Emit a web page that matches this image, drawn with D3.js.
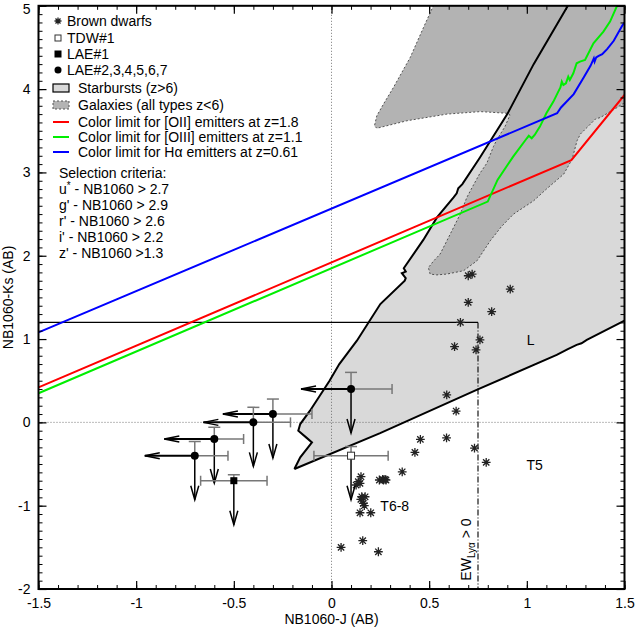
<!DOCTYPE html>
<html>
<head>
<meta charset="utf-8">
<script src="https://cdn.jsdelivr.net/npm/d3@7"></script>
<style>
  body { margin: 0; background: #fff; }
  text { font-family: "Liberation Sans", Arial, sans-serif; fill: #000; }
</style>
</head>
<body>
<script>
// brown dwarfs (asterisks)
const dwarfX = [0.70, 0.72, 0.915, 0.70, 0.82, 0.66, 0.76, 0.63, 0.74, 0.59, 0.638, 0.455, 0.589, 0.732, 0.427, 0.792, 0.362, 0.274, 0.262,
                0.151, 0.137, 0.126, 0.146, 0.245, 0.266, 0.279, 0.155, 0.172, 0.15, 0.163, 0.168, 0.146, 0.201, 0.049, 0.16, 0.24];
const dwarfY = [1.76, 1.78, 1.60, 1.44, 1.33, 1.20, 0.99, 0.91, 0.87, 0.33, 0.136, -0.204, -0.185, -0.309, -0.36, -0.48, -0.593, -0.684, -0.684,
                -0.652, -0.712, -0.752, -0.732, -0.692, -0.692, -0.692, -0.893, -0.893, -0.924, -0.972, -1.0, -1.085, -1.085, -1.50, -1.42, -1.553];

// LAE#2..7 : value, right x error, upper y error (they are upper limits to the left / down)
const laeX = [0.1, -0.3, -0.4, -0.6, -0.7];
const laeY = [0.4, 0.1, 0.0, -0.2, -0.4];
const laeXErr = [0.21, 0.20, 0.19, 0.15, 0.17];
const laeYErr = [0.20, 0.18, 0.18, 0.14, 0.17];

// LAE#1 and TDW#1 : [x, y], [x error, upper y error]
const lae1 = [-0.5, -0.7];
const lae1Err = [0.17, 0.07];
const tdw1 = [0.1, -0.4];
const tdw1Err = [0.19, 0.11];

// colour limit curves
const redLimit = [[-1.5, 0.42], [1.228, 3.148], [1.5, 3.93]];
const greenLimit = [[-1.5, 0.35], [0.80, 2.65], [0.85, 2.91], [0.93, 3.19], [1.0, 3.41], [1.01, 3.44], [1.025, 3.41], [1.04, 3.45],
  [1.067, 3.55], [1.10, 3.71], [1.136, 3.85], [1.161, 3.97], [1.172, 4.02], [1.179, 4.09], [1.187, 4.05], [1.20, 4.07], [1.212, 4.15],
  [1.22, 4.11], [1.238, 4.19], [1.255, 4.31], [1.272, 4.33], [1.298, 4.35], [1.341, 4.55], [1.392, 4.69], [1.426, 4.81], [1.46, 4.99], [1.47, 5.05]];
const blueLimit = [[-1.5, 1.08], [1.155, 3.71], [1.175, 3.78], [1.24, 3.94], [1.291, 4.14], [1.326, 4.28], [1.343, 4.37], [1.347, 4.33],
  [1.355, 4.38], [1.368, 4.40], [1.386, 4.42], [1.411, 4.48], [1.445, 4.58], [1.488, 4.76], [1.5, 4.80]];

// starburst (z>6) region boundaries
const starUpper = [[-0.19, -0.56], [-0.16, -0.42], [-0.10, -0.24], [-0.13, -0.18], [-0.17, -0.10], [-0.16, -0.02], [-0.11, 0.14],
  [-0.01, 0.50], [0.04, 0.70], [0.13, 0.98], [0.25, 1.42], [0.375, 1.70], [0.38, 1.73], [0.36, 1.79], [0.38, 1.81], [0.37, 1.85],
  [0.47, 2.19], [0.54, 2.46], [0.625, 2.70], [0.641, 2.75], [0.649, 2.81], [0.67, 2.86], [0.76, 3.18], [0.90, 3.70], [1.035, 4.30], [1.21, 5.0]];
const starLower = [[-0.19, -0.56], [0.249, -0.13], [0.743, 0.39], [1.153, 0.81], [1.21, 0.88], [1.255, 0.93], [1.28, 0.95], [1.307, 0.99], [1.5, 1.22]];

// galaxies (all types z<6) region
const galaxies = [[0.531, 5.05], [0.471, 4.74], [0.403, 4.38], [0.317, 4.02], [0.266, 3.82], [0.232, 3.68], [0.22, 3.56], [0.232, 3.53],
  [0.386, 3.62], [0.591, 3.70], [0.762, 3.73], [0.898, 3.71], [0.914, 3.69], [0.888, 3.55], [0.846, 3.39], [0.829, 3.31], [0.795, 3.11],
  [0.76, 2.99], [0.72, 2.82], [0.693, 2.70], [0.659, 2.50], [0.625, 2.34], [0.582, 2.14], [0.556, 2.02], [0.52, 1.93], [0.496, 1.857],
  [0.505, 1.78], [0.539, 1.77], [0.59, 1.78], [0.676, 1.82], [0.745, 1.94], [0.813, 2.18], [0.87, 2.35], [0.932, 2.50], [1.035, 2.66],
  [1.10, 2.80], [1.189, 2.98], [1.232, 3.16], [1.257, 3.38], [1.274, 3.46], [1.351, 3.64], [1.377, 3.66], [1.463, 3.78], [1.488, 3.82],
  [1.55, 3.86], [1.55, 5.05]];

// selection box: NB1060-Ks > 1.2 cut and NB1060-J = 0.75 (EW > 0)
const boxKs = 1.2;
const boxJ = 0.75;

const xTicks = [-1.5, -1, -0.5, 0, 0.5, 1, 1.5];
const xTickLabels = ['-1.5', '-1', '-0.5', '0', '0.5', '1', '1.5'];
const yTicks = [-2, -1, 0, 1, 2, 3, 4, 5];
const yTickLabels = ['-2', '-1', '0', '1', '2', '3', '4', '5'];

const legendItems = ['Brown dwarfs', 'TDW#1', 'LAE#1', 'LAE#2,3,4,5,6,7', 'Starbursts (z>6)', 'Galaxies (all types z<6)',
  'Color limit for [OII] emitters at z=1.8', 'Color limit for [OIII] emitters at z=1.1', 'Color limit for H\u03b1 emitters at z=0.61'];
const criteriaBand = ['u', 'g\'', 'r\'', 'i\'', 'z\''];
const criteriaCut = ['> 2.7', '> 2.9', '> 2.6', '> 2.2', '>1.3'];

const width = 635, height = 628;
const margin = { top: 5.8, right: 10.5, bottom: 39, left: 38.5 };

const svg = d3.select('body').append('svg')
  .attr('width', width).attr('height', height);

const x = d3.scaleLinear().domain([-1.5, 1.5]).range([margin.left, width - margin.right]);
const y = d3.scaleLinear().domain([-2, 5]).range([height - margin.bottom, margin.top]);

svg.append('clipPath').attr('id', 'plot')
  .append('rect')
  .attr('x', x(-1.5)).attr('y', y(5))
  .attr('width', x(1.5) - x(-1.5)).attr('height', y(-2) - y(5));

const plot = svg.append('g').attr('clip-path', 'url(#plot)');
const line = d3.line().x(d => x(d[0])).y(d => y(d[1]));

// starburst fill: upper edge, up to the top right corner, down the right edge, back along lower edge
const starPoly = starUpper.concat([[1.6, 5.1], [1.6, 1.22]], starLower.slice().reverse());
plot.append('path').attr('d', line(starPoly) + 'Z').attr('fill', '#d9d9d9');

plot.append('path').attr('d', line(galaxies) + 'Z')
  .attr('fill', '#b3b3b3').attr('stroke', '#444').attr('stroke-width', 0.9)
  .attr('stroke-dasharray', '2,2');

// zero lines
plot.append('line').attr('x1', x(0)).attr('x2', x(0)).attr('y1', y(5)).attr('y2', y(-2))
  .attr('stroke', '#555').attr('stroke-width', 0.8).attr('stroke-dasharray', '1,2');
plot.append('line').attr('x1', x(-1.5)).attr('x2', x(1.5)).attr('y1', y(0)).attr('y2', y(0))
  .attr('stroke', '#555').attr('stroke-width', 0.8).attr('stroke-dasharray', '1,2');

// selection box
plot.append('line').attr('x1', x(-1.5)).attr('x2', x(boxJ)).attr('y1', y(boxKs)).attr('y2', y(boxKs))
  .attr('stroke', '#000').attr('stroke-width', 1.1);
plot.append('line').attr('x1', x(boxJ)).attr('x2', x(boxJ)).attr('y1', y(boxKs)).attr('y2', y(-2))
  .attr('stroke', '#000').attr('stroke-width', 1.1).attr('stroke-dasharray', '6,2,1,2');

// starburst edges
[starUpper, starLower].forEach(p => {
  plot.append('path').attr('d', line(p)).attr('fill', 'none')
    .attr('stroke', '#000').attr('stroke-width', 2);
});

// colour limits
[[redLimit, '#ff0000'], [greenLimit, '#00ee00'], [blueLimit, '#0000ff']].forEach(([p, c]) => {
  plot.append('path').attr('d', line(p)).attr('fill', 'none')
    .attr('stroke', c).attr('stroke-width', 2);
});

// asterisk marker
const star = (r) => {
  const d = r * 0.72;
  return `M${-r},0L${r},0M0,${-r}L0,${r}M${-d},${-d}L${d},${d}M${-d},${d}L${d},${-d}`;
};

plot.selectAll('.dwarf')
  .data(dwarfX.map((v, i) => [v, dwarfY[i]]))
  .enter().append('path')
  .attr('class', 'dwarf')
  .attr('transform', d => `translate(${x(d[0])},${y(d[1])})`)
  .attr('d', star(4.4))
  .attr('stroke', '#222').attr('stroke-width', 1.3).attr('fill', 'none');

// error bars and limit arrows
const errCol = '#777';
const arrowX = 50, arrowY = 44; // limit arrow lengths in px

function hArrow(px, py) {
  const tip = px - arrowX;
  plot.append('line').attr('x1', px).attr('x2', tip).attr('y1', py).attr('y2', py)
    .attr('stroke', '#000').attr('stroke-width', 2);
  plot.append('path').attr('d', `M${tip + 15},${py - 3}L${tip},${py}L${tip + 15},${py + 3}`)
    .attr('fill', 'none').attr('stroke', '#000').attr('stroke-width', 1.5);
}
function vArrow(px, py) {
  const tip = py + arrowY;
  plot.append('line').attr('x1', px).attr('x2', px).attr('y1', py).attr('y2', tip)
    .attr('stroke', '#000').attr('stroke-width', 1.5);
  plot.append('path').attr('d', `M${px - 4},${tip - 14}L${px},${tip}L${px + 4},${tip - 14}`)
    .attr('fill', 'none').attr('stroke', '#000').attr('stroke-width', 1.5);
}
function hErr(x1, x2, py, capLeft) {
  plot.append('line').attr('x1', x1).attr('x2', x2).attr('y1', py).attr('y2', py)
    .attr('stroke', errCol).attr('stroke-width', 1.5);
  plot.append('line').attr('x1', x2).attr('x2', x2).attr('y1', py - 5).attr('y2', py + 5)
    .attr('stroke', errCol).attr('stroke-width', 1.5);
  if (capLeft) {
    plot.append('line').attr('x1', x1).attr('x2', x1).attr('y1', py - 5).attr('y2', py + 5)
      .attr('stroke', errCol).attr('stroke-width', 1.5);
  }
}
function vErrUp(px, py, top) {
  plot.append('line').attr('x1', px).attr('x2', px).attr('y1', py).attr('y2', top)
    .attr('stroke', errCol).attr('stroke-width', 1.5);
  plot.append('line').attr('x1', px - 6).attr('x2', px + 6).attr('y1', top).attr('y2', top)
    .attr('stroke', errCol).attr('stroke-width', 1.5);
}

laeX.forEach((v, i) => {
  const px = x(v), py = y(laeY[i]);
  hErr(px, x(v + laeXErr[i]), py, false);
  vErrUp(px, py, y(laeY[i] + laeYErr[i]));
  hArrow(px, py);
  vArrow(px, py);
});
[[lae1, lae1Err], [tdw1, tdw1Err]].forEach(([p, e]) => {
  const px = x(p[0]), py = y(p[1]);
  hErr(x(p[0] - e[0]), x(p[0] + e[0]), py, true);
  vErrUp(px, py, y(p[1] + e[1]));
  vArrow(px, py);
});

plot.selectAll('.lae')
  .data(laeX.map((v, i) => [v, laeY[i]]))
  .enter().append('circle')
  .attr('cx', d => x(d[0])).attr('cy', d => y(d[1])).attr('r', 4)
  .attr('fill', '#000');
plot.append('rect').attr('x', x(lae1[0]) - 3.5).attr('y', y(lae1[1]) - 3.5)
  .attr('width', 7).attr('height', 7).attr('fill', '#000');
plot.append('rect').attr('x', x(tdw1[0]) - 3.5).attr('y', y(tdw1[1]) - 3.5)
  .attr('width', 7).attr('height', 7).attr('fill', '#fff').attr('stroke', '#333').attr('stroke-width', 1);

// region labels
svg.append('text').attr('x', x(1.02)).attr('y', y(0.93)).attr('font-size', 14).attr('text-anchor', 'middle').text('L');
svg.append('text').attr('x', x(1.04)).attr('y', y(-0.57)).attr('font-size', 14).attr('text-anchor', 'middle').text('T5');
svg.append('text').attr('x', x(0.25)).attr('y', y(-1.06)).attr('font-size', 14).text('T6-8');

const ew = svg.append('text').attr('font-size', 14)
  .attr('transform', `translate(${x(boxJ) - 7},${y(-1.9)}) rotate(-90)`);
ew.append('tspan').text('EW');
ew.append('tspan').attr('font-size', 10).attr('dy', 4).text('Ly\u03b1');
ew.append('tspan').attr('dy', -4).text(' > 0');

// legend
const lg = svg.append('g').attr('font-size', 14);
const rowY = [21, 38, 54, 70, 88, 105, 122, 137, 152];
const symX = 58;
lg.append('path').attr('transform', `translate(${symX},${rowY[0]})`).attr('d', star(3.5))
  .attr('stroke', '#222').attr('stroke-width', 1.3);
lg.append('rect').attr('x', symX - 3).attr('y', rowY[1] - 3).attr('width', 6).attr('height', 6)
  .attr('fill', '#fff').attr('stroke', '#333');
lg.append('rect').attr('x', symX - 3.5).attr('y', rowY[2] - 3.5).attr('width', 7).attr('height', 7).attr('fill', '#000');
lg.append('circle').attr('cx', symX).attr('cy', rowY[3]).attr('r', 3.5).attr('fill', '#000');
lg.append('rect').attr('x', 53).attr('y', rowY[4] - 4).attr('width', 16).attr('height', 8)
  .attr('fill', '#d9d9d9').attr('stroke', '#000').attr('stroke-width', 1.2);
lg.append('rect').attr('x', 53).attr('y', rowY[5] - 4).attr('width', 16).attr('height', 8)
  .attr('fill', '#b3b3b3').attr('stroke', '#555').attr('stroke-width', 1).attr('stroke-dasharray', '2,2');
['#ff0000', '#00ee00', '#0000ff'].forEach((c, i) => {
  lg.append('line').attr('x1', 53).attr('x2', 69).attr('y1', rowY[6 + i]).attr('y2', rowY[6 + i])
    .attr('stroke', c).attr('stroke-width', 2);
});
legendItems.forEach((t, i) => {
  lg.append('text').attr('x', i < 4 ? 67 : 78).attr('y', rowY[i] + 5).text(t);
});
lg.append('text').attr('x', 59).attr('y', 178).text('Selection criteria:');
criteriaBand.forEach((b, i) => {
  const t = lg.append('text').attr('x', 59).attr('y', 194 + i * 16);
  t.append('tspan').text(b);
  if (i === 0) t.append('tspan').attr('font-size', 10).attr('dy', -5).text('*');
  t.append('tspan').attr('dy', i === 0 ? 5 : 0).text(' - NB1060 ' + criteriaCut[i]);
});

// axes with inward ticks on all four sides
const xMinor = d3.range(-15, 16).map(d => d / 10);
const yMinor = d3.range(-20, 51).map(d => d / 10);
const axes = [
  [d3.axisBottom(x), `translate(0,${y(-2)})`, true, xTicks, xMinor],
  [d3.axisTop(x), `translate(0,${y(5)})`, false, xTicks, xMinor],
  [d3.axisLeft(y), `translate(${x(-1.5)},0)`, true, yTicks, yMinor],
  [d3.axisRight(y), `translate(${x(1.5)},0)`, false, yTicks, yMinor]
];
axes.forEach(([ax, tr, lab, major, minor]) => {
  const labels = major === xTicks ? xTickLabels : yTickLabels;
  svg.append('g').attr('transform', tr)
    .call(ax.tickValues(minor).tickSize(-4).tickFormat(''))
    .call(g => g.select('.domain').remove());
  const g = svg.append('g').attr('transform', tr)
    .call(ax.tickValues(major).tickSize(-8).tickPadding(major === xTicks ? 9 : 8)
      .tickFormat((d, i) => lab ? labels[i] : ''));
  g.select('.domain').remove();
  g.selectAll('text').attr('font-size', 14).style('font-family', '"Liberation Sans", Arial, sans-serif');
  g.selectAll('line').attr('stroke-width', 1.2);
  // keep the top "5" inside the page
  if (lab && major === yTicks) g.selectAll('text').filter(d => d === 5).attr('dy', '0.52em');
});

svg.append('rect').attr('x', x(-1.5)).attr('y', y(5))
  .attr('width', x(1.5) - x(-1.5)).attr('height', y(-2) - y(5))
  .attr('fill', 'none').attr('stroke', '#000').attr('stroke-width', 2);

svg.append('text').attr('x', x(0)).attr('y', 624).attr('text-anchor', 'middle').attr('font-size', 14)
  .text('NB1060-J (AB)');
svg.append('text').attr('transform', `translate(13,${y(1.5)}) rotate(-90)`)
  .attr('text-anchor', 'middle').attr('font-size', 14)
  .text('NB1060-Ks (AB)');
</script>
</body>
</html>
